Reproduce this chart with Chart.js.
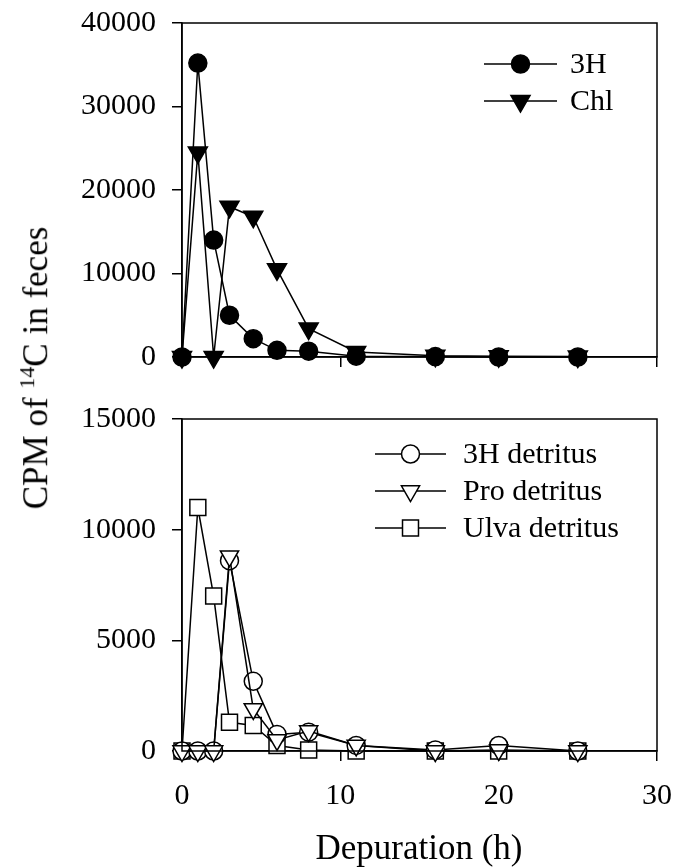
<!DOCTYPE html>
<html lang="en">
<head>
<meta charset="UTF-8">
<title>CPM of 14C in feces</title>
<script src="https://cdn.jsdelivr.net/npm/chart.js"></script>
<style>
  body { margin: 0; background: #fff; font-family: "Liberation Serif", "Times New Roman", serif; }
  #wrap { position: relative; width: 675px; height: 867px; overflow: hidden; }
  canvas { position: absolute; left: 0; }
  #topChart { top: 0; }
  #bottomChart { top: 390px; }
  #yTitle { position: absolute; left: 35px; top: 368px; transform: translate(-50%, -50%) rotate(-90deg);
            font-size: 35px; white-space: nowrap; color: #000; }
  #yTitle sup { font-size: 22px; }
  #xTitle { position: absolute; left: 419px; top: 848px; transform: translate(-50%, -50%);
            font-size: 35px; white-space: nowrap; color: #000; }
</style>
</head>
<body>
<div id="wrap">
  <canvas id="topChart" width="675" height="390"></canvas>
  <canvas id="bottomChart" width="675" height="477"></canvas>
  <div id="yTitle">CPM of <sup>14</sup>C in feces</div>
  <div id="xTitle">Depuration (h)</div>
</div>

<script>
// sampling times (h)
const hours = [0, 1, 2, 3, 4.5, 6, 8, 11, 16, 20, 25];

// top panel
const h3 = [0, 35200, 14000, 5000, 2200, 800, 700, 100, 50, 0, 0];
const chl = [0, 24500, 0, 18000, 16800, 10500, 3400, 600, 150, 100, 50];

// bottom panel
const h3Detritus = [0, 0, 0, 8600, 3150, 750, 850, 250, 50, 250, 0];
const proDetritus = [0, 0, 0, 8800, 1900, 500, 900, 250, 0, 50, 0];
const ulvaDetritus = [0, 11000, 7000, 1300, 1150, 250, 50, 0, 0, 0, 0];

const xTicks = [0, 10, 20, 30];
const topTicks = [0, 10000, 20000, 30000, 40000];
const bottomTicks = [0, 5000, 10000, 15000];

const FONT = { family: "'Liberation Serif', 'Times New Roman', serif", size: 30 };

function pts(ys) {
    return hours.map((x, i) => ({ x: x, y: ys[i] }));
}

// box around the plot area
const framePlugin = {
    id: 'frame',
    afterDraw(chart) {
        const a = chart.chartArea;
        const ctx = chart.ctx;
        ctx.save();
        ctx.strokeStyle = '#000';
        ctx.lineWidth = 1.5;
        ctx.strokeRect(a.left, a.top, a.right - a.left, a.bottom - a.top);
        ctx.restore();
    }
};

// legend: line with marker, then label
const lineLegendPlugin = {
    id: 'lineLegend',
    afterDraw(chart, args, opts) {
        const ctx = chart.ctx;
        ctx.save();
        chart.data.datasets.forEach(ds => {
            const y = opts.top + opts.rowGap * ds.legendRow;
            ctx.strokeStyle = '#000';
            ctx.lineWidth = 1.5;
            ctx.beginPath();
            ctx.moveTo(opts.x1, y);
            ctx.lineTo(opts.x2, y);
            ctx.stroke();
            ctx.fillStyle = ds.pointBackgroundColor;
            ctx.strokeStyle = ds.pointBorderColor;
            ctx.lineWidth = ds.pointBorderWidth;
            Chart.helpers.drawPoint(ctx, {
                pointStyle: ds.pointStyle,
                rotation: ds.pointRotation || 0,
                radius: ds.pointRadius,
                borderWidth: ds.pointBorderWidth
            }, (opts.x1 + opts.x2) / 2, y);
            ctx.fillStyle = '#000';
            ctx.font = FONT.size + 'px ' + FONT.family;
            ctx.textAlign = 'left';
            ctx.textBaseline = 'middle';
            ctx.fillText(ds.label, opts.textX, y + 1);
        });
        ctx.restore();
    }
};

function lineSet(label, ys, style, radius, fill, order, row, rotation) {
    return {
        label: label,
        data: pts(ys),
        borderColor: '#000',
        borderWidth: 1.5,
        pointStyle: style,
        pointRadius: radius,
        pointHoverRadius: radius,
        pointRotation: rotation || 0,
        pointBackgroundColor: fill,
        pointBorderColor: '#000',
        pointBorderWidth: 1.5,
        tension: 0,
        clip: false,
        order: order,
        legendRow: row
    };
}

function makeOptions(yMax, yTickList, showXLabels, xHeight, padTop, legend) {
    return {
        responsive: false,
        animation: false,
        layout: { padding: { top: padTop, right: 18, bottom: 0, left: 0 } },
        plugins: {
            legend: { display: false },
            tooltip: { enabled: false },
            lineLegend: legend
        },
        scales: {
            x: {
                type: 'linear',
                min: 0,
                max: 30,
                afterBuildTicks: s => { s.ticks = xTicks.map(v => ({ value: v })); },
                afterFit: s => { s.height = xHeight; s.paddingLeft = 0; s.paddingRight = 0; },
                ticks: { display: showXLabels, color: '#000', font: FONT, padding: 17, maxRotation: 0,
                         callback: v => String(v) },
                grid: { display: true, drawOnChartArea: false, drawTicks: true, tickLength: 10, color: '#000', lineWidth: 1.5 },
                border: { display: true, color: '#000', width: 1.5 }
            },
            y: {
                min: 0,
                max: yMax,
                afterBuildTicks: s => { s.ticks = yTickList.map(v => ({ value: v })); },
                afterFit: s => { s.width = 182; s.paddingTop = 0; s.paddingBottom = 0; },
                ticks: { color: '#000', font: FONT, padding: 16, callback: v => String(v) },
                grid: { display: true, drawOnChartArea: false, drawTicks: true, tickLength: 10, color: '#000', lineWidth: 1.5 },
                border: { display: true, color: '#000', width: 1.5 }
            }
        }
    };
}

new Chart(document.getElementById('topChart'), {
    type: 'line',
    data: {
        datasets: [
            lineSet('3H', h3, 'circle', 9, '#000', 0, 0),
            lineSet('Chl', chl, 'triangle', 11, '#000', 1, 1, 180)
        ]
    },
    options: makeOptions(40000, topTicks, false, 33, 23,
        { top: 64, rowGap: 37, x1: 484, x2: 557, textX: 570 }),
    plugins: [framePlugin, lineLegendPlugin]
});

new Chart(document.getElementById('bottomChart'), {
    type: 'line',
    data: {
        datasets: [
            lineSet('3H detritus', h3Detritus, 'circle', 9, '#fff', 1, 0),
            lineSet('Pro detritus', proDetritus, 'triangle', 10.5, '#fff', 0, 1, 180),
            lineSet('Ulva detritus', ulvaDetritus, 'rect', 11.3, '#fff', 2, 2)
        ]
    },
    options: makeOptions(15000, bottomTicks, true, 116, 29,
        { top: 64, rowGap: 37, x1: 375, x2: 446, textX: 463 }),
    plugins: [framePlugin, lineLegendPlugin]
});
</script>
</body>
</html>
